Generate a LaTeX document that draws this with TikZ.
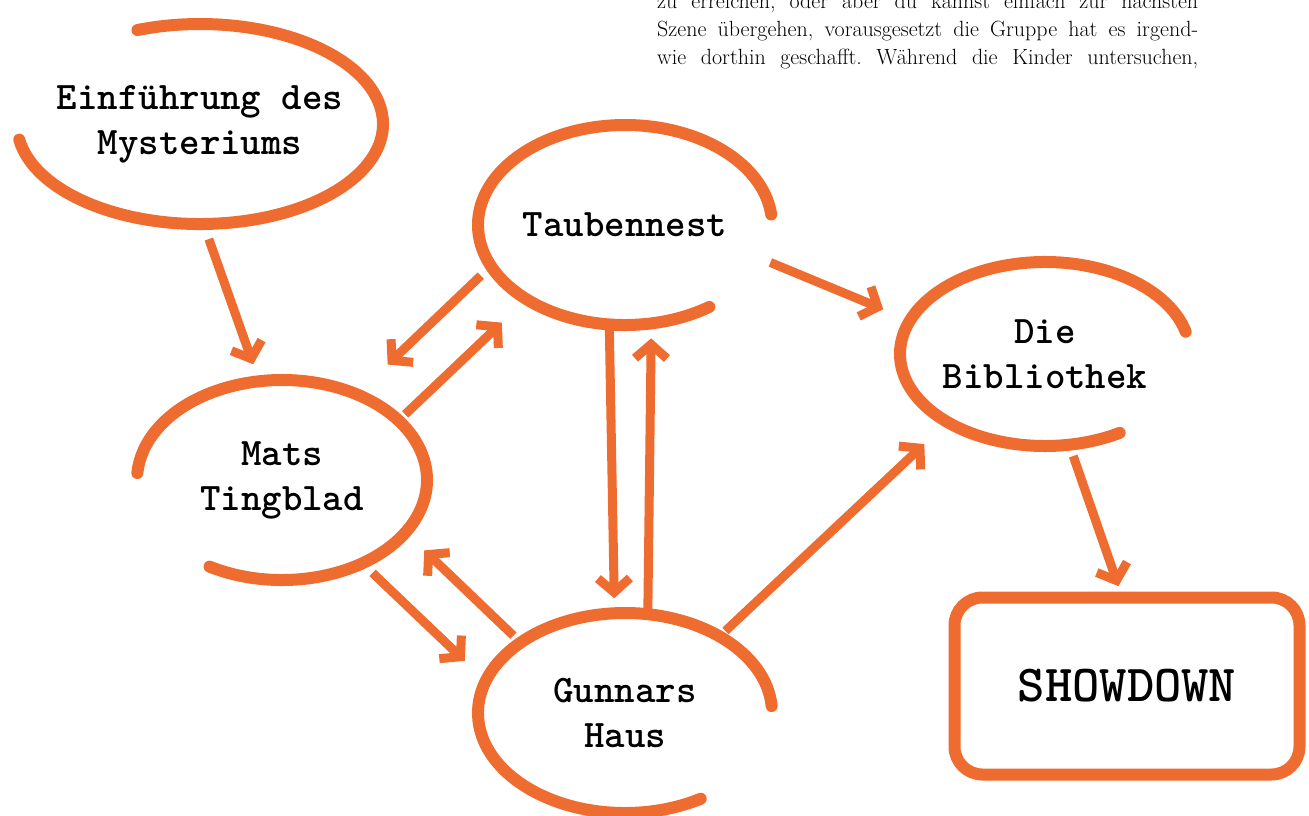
\documentclass[tikz,border=0pt]{standalone}
\usepackage{xcolor}
\usepackage{tikz}
\usetikzlibrary{shapes.geometric, arrows.meta, positioning, calc}

\definecolor{brushorange}{RGB}{238,108,48}
\frenchspacing

\begin{document}
\begin{tikzpicture}[x=1pt, y=1pt,
  scene/.style={ellipse, inner sep=0pt, outer sep=0pt, align=center, font=\ttfamily\bfseries\fontsize{39}{45}\selectfont},
  brush/.style={draw=brushorange, line width=12pt, line cap=round},
  brusharrow/.style={draw=brushorange, line width=9pt, -{Straight Barb[length=14pt, width=32pt]}},
  bodyline/.style={anchor=base west, inner sep=0pt, font=\fontsize{22}{28}\selectfont}]

\useasboundingbox (0,0) rectangle (1309,-815);
\clip (0,0) rectangle (1309,-815);

% Book text, top right
\node[bodyline] (line1) at (657,-8) {\makebox[541pt][s]{zu erreichen, oder aber du kannst einfach zur nächsten}};
\node[bodyline] (line2) at (657,-36) {\makebox[541pt][s]{Szene übergehen, vorausgesetzt die Gruppe hat es irgend-}};
\node[bodyline] (line3) at (657,-64) {\makebox[541pt][s]{wie dorthin geschafft. Während die Kinder untersuchen,}};

% Scenes
\node[scene, minimum width=366pt, minimum height=200pt] (intro) at (200,-124) {Einführung des\\Mysteriums};
\node[scene, minimum width=294pt, minimum height=200pt] (taub) at (625,-225) {Taubennest};
\node[scene, minimum width=290pt, minimum height=184pt] (biblio) at (1045,-354) {Die\\Bibliothek};
\node[scene, minimum width=290pt, minimum height=200pt] (mats) at (282,-480) {Mats\\Tingblad};
\node[scene, minimum width=294pt, minimum height=200pt] (gunnar) at (625,-713) {Gunnars\\Haus};
\node[draw=brushorange, line width=12pt, rounded corners=28pt, minimum width=345pt, minimum height=177pt,
  inner sep=0pt, outer sep=0pt, font=\ttfamily\bfseries\fontsize{52}{60}\selectfont] (showdown) at (1127,-686) {SHOWDOWN};

% Brush strokes round the scenes (open on one side)
\draw[brush] ([shift={(189:183 and 100)}]intro.center) arc[start angle=189, end angle=470, x radius=183, y radius=100];
\draw[brush] ([shift={(6:147 and 100)}]taub.center) arc[start angle=6, end angle=305, x radius=147, y radius=100];
\draw[brush] ([shift={(14:145 and 92)}]biblio.center) arc[start angle=14, end angle=301, x radius=145, y radius=92];
\draw[brush] ([shift={(240:145 and 100)}]mats.center) arc[start angle=240, end angle=536, x radius=145, y radius=100];
\draw[brush] ([shift={(4:147 and 100)}]gunnar.center) arc[start angle=4, end angle=301, x radius=147, y radius=100];

% Connections
\draw[brusharrow, shorten <=16pt, shorten >=18pt] (intro.-88) -- (mats.103);
\draw[brusharrow, shorten <=9pt, shorten >=34pt] (mats.27) -- (taub.217);
\draw[brusharrow, shorten <=14pt, shorten >=43pt] (taub.197) -- (mats.49);
\draw[brusharrow, shorten >=15pt] (taub.261) -- (gunnar.96);
\draw[brusharrow, shorten <=5pt, shorten >=15pt] (gunnar.77) -- (taub.-75);
\draw[brusharrow, shorten <=8pt, shorten >=29pt] (taub.-14) -- (biblio.166);
\draw[brusharrow, shorten <=8pt, shorten >=32pt] (gunnar.39) -- (biblio.215);
\draw[brusharrow, shorten <=10pt, shorten >=26pt] (gunnar.146) -- (mats.-23);
\draw[brusharrow, shorten <=14pt, shorten >=29pt] (mats.-46) -- (gunnar.167);
\draw[brusharrow, shorten <=12pt, shorten >=12pt] (biblio.-75) -- (showdown.93);

\end{tikzpicture}
\end{document}
